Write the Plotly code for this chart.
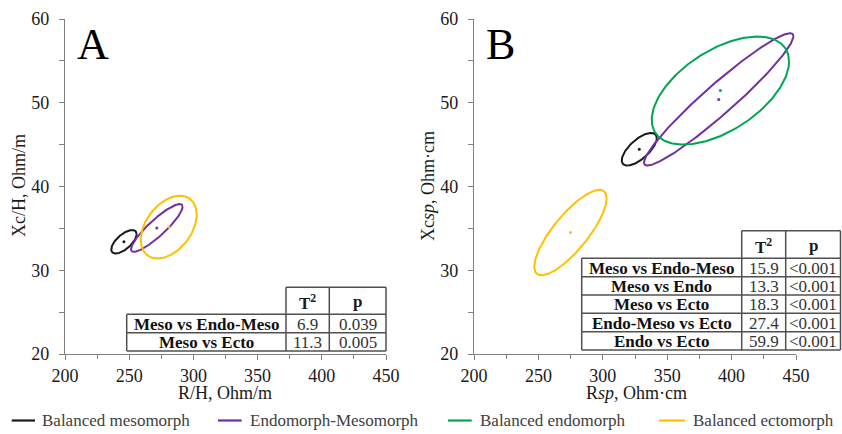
import numpy as np
import plotly.graph_objects as go

# ---------------- data ----------------
groups = ["Balanced mesomorph", "Endomorph-Mesomorph", "Balanced endomorph", "Balanced ectomorph"]
colors = ["#1a1a1a", "#7030A0", "#00A650", "#FFC000"]

# Panel A (R/H, Xc/H): centre, half-extent in x and y, correlation
a_groups = ["Balanced mesomorph", "Endomorph-Mesomorph", "Balanced ectomorph"]
a_cx = [245.9, 271.5, 280.8]
a_cy = [33.4, 35.05, 35.15]
a_sx = [9.9, 20.1, 21.8]
a_sy = [1.4, 2.85, 3.75]
a_rho = [0.65, 0.89, 0.40]

# Panel B (Rsp, Xcsp)
b_groups = ["Balanced mesomorph", "Endomorph-Mesomorph", "Balanced endomorph", "Balanced ectomorph"]
b_cx = [328.3, 390.0, 391.3, 274.9]
b_cy = [44.45, 50.4, 51.45, 34.5]
b_sx = [13.6, 58.0, 53.3, 28.1]
b_sy = [1.95, 7.9, 6.45, 5.1]
b_rho = [0.68, 0.955, 0.54, 0.80]

# Tables
a_comp = ["Meso vs Endo-Meso", "Meso vs Ecto"]
a_t2 = ["6.9", "11.3"]
a_p = ["0.039", "0.005"]
b_comp = ["Meso vs Endo-Meso", "Meso vs Endo", "Meso vs Ecto", "Endo-Meso vs Ecto", "Endo vs Ecto"]
b_t2 = ["15.9", "13.3", "18.3", "27.4", "59.9"]
b_p = ["<0.001", "<0.001", "<0.001", "<0.001", "<0.001"]

x_ticks = [200, 250, 300, 350, 400, 450]
y_ticks = [20, 30, 40, 50, 60]

# ---------------- figure ----------------
W, H = 842, 434
def PX(x): return x / W
def PY(y): return 1 - y / H

SERIF = "Liberation Serif, Times New Roman, serif"
fig = go.Figure()

t = np.linspace(0, 2 * np.pi, 240)
def add_ellipses(names, cx, cy, sx, sy, rho, xa, ya):
    for n, x0, y0, a, b, r in zip(names, cx, cy, sx, sy, rho):
        col = colors[groups.index(n)]
        ex = x0 + a * np.cos(t)
        ey = y0 + b * (r * np.cos(t) + np.sqrt(1 - r * r) * np.sin(t))
        fig.add_trace(go.Scatter(x=ex, y=ey, mode="lines", line=dict(color=col, width=2),
                                 xaxis=xa, yaxis=ya, showlegend=False, hoverinfo="skip", name=n))
        fig.add_trace(go.Scatter(x=[x0], y=[y0], mode="markers", marker=dict(color=col, size=3),
                                 xaxis=xa, yaxis=ya, showlegend=False, name=n))

add_ellipses(a_groups, a_cx, a_cy, a_sx, a_sy, a_rho, "x", "y")
add_ellipses(b_groups, b_cx, b_cy, b_sx, b_sy, b_rho, "x2", "y2")

ydom = [PY(354), PY(19)]
axis_common = dict(showgrid=False, zeroline=False, showline=True, linecolor="#808080", linewidth=1.3,
                   ticks="outside", tickcolor="#808080", ticklen=5, tickwidth=1.2, automargin=False,
                   tickfont=dict(family=SERIF, size=18, color="#1a1a1a"))
xcommon = dict(axis_common, range=[200, 450], tickvals=x_ticks,
               minor=dict(dtick=25, ticks="outside", ticklen=4, tickcolor="#808080", tickwidth=1.2))
ycommon = dict(axis_common, range=[20, 60], tickvals=y_ticks,
               minor=dict(dtick=5, ticks="outside", ticklen=5, tickcolor="#808080", tickwidth=1.2),
               ticklabelstandoff=6)

fig.update_layout(
    width=W, height=H, margin=dict(l=0, r=0, t=0, b=0, autoexpand=False),
    paper_bgcolor="white", plot_bgcolor="white", showlegend=False,
    xaxis=dict(xcommon, domain=[PX(65), PX(386)], anchor="y"),
    yaxis=dict(ycommon, domain=ydom, anchor="x"),
    xaxis2=dict(xcommon, domain=[PX(474), PX(796)], anchor="y2"),
    yaxis2=dict(ycommon, domain=ydom, anchor="x2"),
)

shapes = []
annotations = []

def txt(x, y, s, size=17, bold=False, color="#1a1a1a", anchor="center", angle=0):
    if bold:
        s = "<b>" + s + "</b>"
    annotations.append(dict(x=PX(x), y=PY(y), xref="paper", yref="paper", text=s, showarrow=False,
                            xanchor=anchor, yanchor="middle", textangle=angle,
                            font=dict(family=SERIF, size=size, color=color)))

def line(x0, y0, x1, y1, color="#505050", width=1.5):
    shapes.append(dict(type="line", xref="paper", yref="paper", x0=PX(x0), y0=PY(y0), x1=PX(x1), y1=PY(y1),
                       line=dict(color=color, width=width)))

def table(c0, c1, c2, c3, rows, comp, t2, p):
    shapes.append(dict(type="rect", xref="paper", yref="paper", x0=PX(c1), x1=PX(c3), y0=PY(rows[1]), y1=PY(rows[0]),
                       fillcolor="white", line=dict(width=0)))
    shapes.append(dict(type="rect", xref="paper", yref="paper", x0=PX(c0), x1=PX(c3), y0=PY(rows[-1]), y1=PY(rows[1]),
                       fillcolor="white", line=dict(width=0)))
    line(c1, rows[0], c3, rows[0])
    for r in rows[1:]:
        line(c0, r, c3, r)
    line(c0, rows[1], c0, rows[-1])
    for c in (c1, c2, c3):
        line(c, rows[0], c, rows[-1])
    hy = (rows[0] + rows[1]) / 2 + 1
    txt((c1 + c2) / 2, hy, "T<sup>2</sup>", bold=True)
    txt((c2 + c3) / 2, hy, "p", bold=True)
    for i, (a, b, c) in enumerate(zip(comp, t2, p)):
        yy = (rows[i + 1] + rows[i + 2]) / 2 + 0.5
        txt((c0 + c1) / 2, yy, a, bold=True, color="#111111")
        txt((c1 + c2) / 2, yy, b, color="#333333")
        txt((c2 + c3) / 2, yy, c, color="#333333")

table(126.7, 286, 329.3, 386, [287.3, 314.3, 332.7, 351], a_comp, a_t2, a_p)
table(581.7, 741.7, 785.7, 840.5, [230.7, 258.3, 276.7, 295, 313.3, 331.7, 350], b_comp, b_t2, b_p)

# panel letters
txt(93, 44, "A", size=44, color="#000000")
txt(500, 44, "B", size=44, color="#000000")

# axis titles
txt(225, 393, "R/H, Ohm/m", size=18)
txt(19, 186, "Xc/H, Ohm/m", size=18, angle=-90)
txt(636, 393, "R<i>sp</i>, Ohm·cm", size=18)
txt(428, 186, "Xc<i>sp</i>, Ohm·cm", size=18, angle=-90)

# legend
leg_x = [(11.7, 35, 40), (218, 241.7, 248), (448, 471.7, 478), (659, 685, 691)]
for g, (l0, l1, tx) in zip(groups, leg_x):
    line(l0, 420.5, l1, 420.5, color=colors[groups.index(g)], width=2.2)
    txt(tx, 420, g, size=17, color="#404040", anchor="left")

fig.update_layout(shapes=shapes, annotations=annotations)
fig.write_html("out.html", config={"displayModeBar": False},
               post_script="document.body.style.margin='0';document.body.style.overflow='hidden';")
